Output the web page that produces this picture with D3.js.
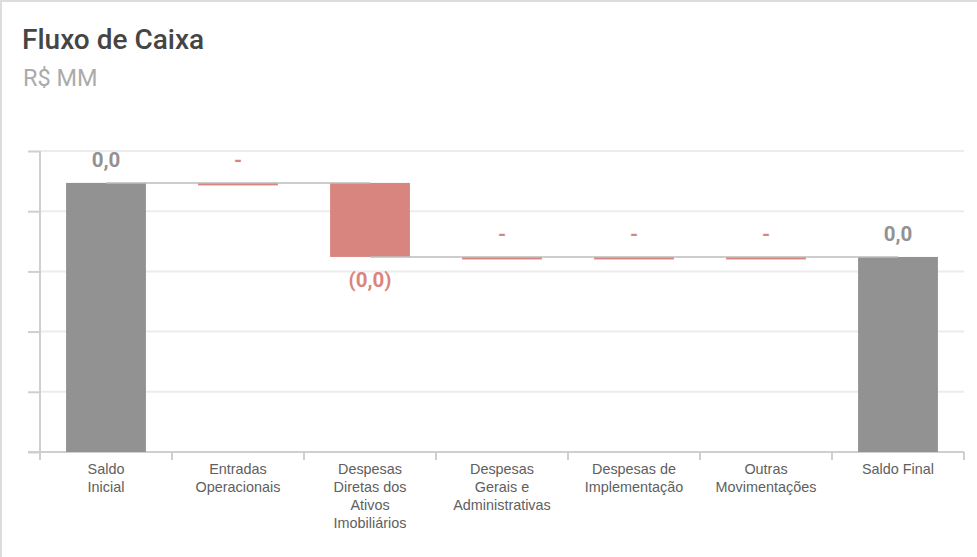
<!DOCTYPE html>
<html>
<head>
<meta charset="utf-8">
<script src="https://cdn.jsdelivr.net/npm/d3@7"></script>
<style>
  html, body { margin: 0; padding: 0; background: #fff; }
  svg { display: block; }
</style>
</head>
<body>
<svg id="chart" width="977" height="557"></svg>
<script>
(function() {
// ---- data ----
const categories = ["Saldo Inicial", "Entradas Operacionais", "Despesas Diretas dos Ativos Imobiliários",
  "Despesas Gerais e Administrativas", "Despesas de Implementação", "Outras Movimentações", "Saldo Final"];
const categoryLines = [
  ["Saldo", "Inicial"],
  ["Entradas", "Operacionais"],
  ["Despesas", "Diretas dos", "Ativos", "Imobiliários"],
  ["Despesas", "Gerais e", "Administrativas"],
  ["Despesas de", "Implementação"],
  ["Outras", "Movimentações"],
  ["Saldo Final"]
];
const kinds = ["total", "delta", "delta", "delta", "delta", "delta", "total"];
const values = [0.0447, 0, -0.0123, 0, 0, 0, 0.0324];
const valueLabels = ["0,0", "-", "(0,0)", "-", "-", "-", "0,0"];
const yTicks = [0, 0.01, 0.02, 0.03, 0.04, 0.05];

const title = "Fluxo de Caixa";
const subtitle = "R$ MM";

// ---- layout ----
const svg = d3.select("#chart");
const mLeft = 40, mRight = 964, mTop = 151, mBottom = 452;

const gray = "#929292", red = "#d9857f";

// card border
svg.append("rect").attr("x", 1).attr("y", 1).attr("width", 1200).attr("height", 800)
  .attr("fill", "#fff").attr("stroke", "#dcdcdc").attr("stroke-width", 2);

svg.append("text").attr("x", 22).attr("y", 49).text(title)
  .attr("font-family", "Roboto").attr("font-size", 28).attr("font-weight", 500).attr("fill", "#454545");
svg.append("text").attr("x", 23).attr("y", 86).text(subtitle)
  .attr("font-family", "Roboto").attr("font-size", 23.5).attr("fill", "#ababab");

const step = (mRight - mLeft) / categories.length;
const xb = d3.scaleBand().domain(categories).range([mLeft, mRight]).paddingInner(0.395).paddingOuter(0.1975);
const y = d3.scaleLinear().domain([0, 0.05]).range([mBottom, mTop]);

// gridlines
svg.append("g").selectAll("line").data(yTicks.filter(t => t !== 0)).join("line")
  .attr("x1", mLeft).attr("x2", mRight).attr("y1", d => y(d)).attr("y2", d => y(d))
  .attr("stroke", "#ececec").attr("stroke-width", 2);

// y axis
const yAxis = d3.axisLeft(y).tickValues(yTicks).tickSize(12).tickFormat("");
const gy = svg.append("g").attr("transform", `translate(${mLeft},0)`).call(yAxis);
gy.select(".domain").attr("stroke", "#cfcfcf").attr("stroke-width", 2).attr("d", `M0,${mTop}V${mBottom}`);
gy.selectAll(".tick line").attr("stroke", "#cfcfcf").attr("stroke-width", 2);

// x axis
svg.append("line").attr("x1", mLeft - 12).attr("x2", mRight).attr("y1", mBottom).attr("y2", mBottom)
  .attr("stroke", "#cfcfcf").attr("stroke-width", 2);
const bounds = d3.range(categories.length + 1).map(i => mLeft + i * step);
svg.append("g").selectAll("line").data(bounds).join("line")
  .attr("x1", d => d).attr("x2", d => d).attr("y1", mBottom).attr("y2", mBottom + 8)
  .attr("stroke", "#cfcfcf").attr("stroke-width", 2);

// compute waterfall
let cum = 0;
const bars = categories.map((c, i) => {
  let start, end;
  if (kinds[i] === "total") { start = 0; end = values[i]; cum = values[i]; }
  else { start = cum; end = cum + values[i]; cum = end; }
  return { c, i, start, end, level: cum, v: values[i], kind: kinds[i] };
});

const bw = xb.bandwidth();
const cx = c => xb(c) + bw / 2;

// bars
svg.append("g").selectAll("rect").data(bars).join("rect")
  .attr("x", d => xb(d.c)).attr("width", bw)
  .attr("y", d => d.v === 0 ? y(d.start) : Math.min(y(d.start), y(d.end)))
  .attr("height", d => d.v === 0 ? 2.5 : Math.abs(y(d.start) - y(d.end)))
  .attr("fill", d => d.kind === "total" ? gray : red);

// connectors
const conn = bars.slice(0, -1).map((d, i) => ({ x1: cx(d.c), x2: cx(bars[i + 1].c), yv: d.level }));
svg.append("g").selectAll("line").data(conn).join("line")
  .attr("x1", d => d.x1).attr("x2", d => d.x2).attr("y1", d => y(d.yv)).attr("y2", d => y(d.yv))
  .attr("stroke", "#bdbdbd").attr("stroke-width", 1.5);

// value labels
svg.append("g").selectAll("text").data(bars).join("text")
  .attr("x", d => cx(d.c))
  .attr("y", d => d.v < 0 && d.kind === "delta" ? y(d.end) + 30 : y(Math.max(d.start, d.end)) - 16)
  .attr("text-anchor", "middle")
  .attr("font-family", "Roboto").attr("font-weight", 700).attr("font-size", 20.5)
  .attr("fill", d => d.kind === "total" ? gray : red)
  .text((d, i) => valueLabels[i]);

// x tick labels
const lg = svg.append("g").selectAll("text").data(bars).join("text")
  .attr("text-anchor", "middle")
  .attr("font-family", "Liberation Sans, Arial, sans-serif").attr("font-size", 14.4).attr("fill", "#606060");
lg.each(function(d, i) {
  d3.select(this).selectAll("tspan").data(categoryLines[i]).join("tspan")
    .attr("x", cx(d.c)).attr("y", (t, k) => 474 + k * 18).text(t => t);
});
})();
</script>
</body>
</html>
